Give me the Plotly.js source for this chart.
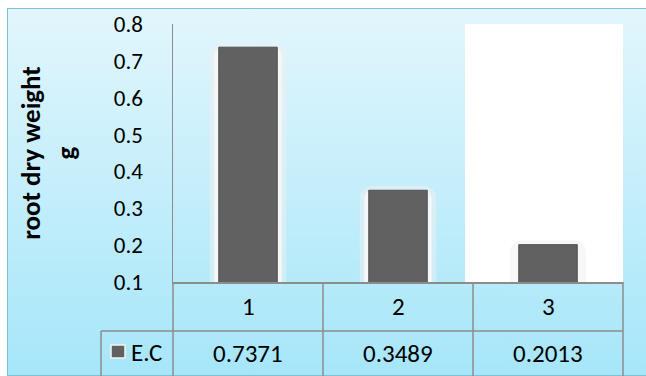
<!DOCTYPE html>
<html><head><meta charset="utf-8">
<script src="https://cdn.plot.ly/plotly-3.0.1.min.js"></script>
<style>
html,body{margin:0;padding:0;background:#fff;}
#wrap{position:absolute;left:0;top:0;width:646px;height:376px;overflow:hidden;}
#bg{position:absolute;left:7px;top:8px;width:660px;height:366px;border:1px solid #7cc3d8;background:linear-gradient(#e2f6fc,#a6e6f9);}
#chart{position:absolute;left:0;top:0;width:646px;height:376px;}
</style></head>
<body><div id="wrap"><div id="bg"></div><div id="chart"></div></div>
<script>
var categories = ['1', '2', '3'];
var seriesName = 'E.C';
var values = [0.7371, 0.3489, 0.2013];
var yTicks = [0.1, 0.2, 0.3, 0.4, 0.5, 0.6, 0.7, 0.8];
var yTitle = 'root dry weight<br>g';

var FONT = 'Carlito, Lato, "Open Sans", sans-serif';
var xIdx = categories.map(function(c,i){return i;});
var barW = 0.39;

var glow = {type:'bar', x:xIdx, y:values, width:barW+0.06, showlegend:false, hoverinfo:'skip',
  marker:{color:'rgba(255,255,255,0.9)', cornerradius:8, line:{color:'rgba(240,240,240,0.5)', width:9}}};
var bars = {type:'bar', name:seriesName, x:xIdx, y:values, width:barW, showlegend:false,
  marker:{color:'#616161', line:{color:'#505050', width:1}}};

var lineC = '#8c8c8c';
var H = 258, W = 450;
function py(px){ return -(px-282)/H; }
function pxX(px){ return (px-173)/W; }
var yRow = py(331), yBot = py(377);
var shapes = [
  {type:'rect', xref:'x', yref:'paper', x0:1.447, x1:2.5, y0:0, y1:1, fillcolor:'#ffffff', line:{width:0}, layer:'below'}
];
[0,1/3,2/3,1].forEach(function(b){
  shapes.push({type:'line', xref:'paper', yref:'paper', x0:b, x1:b, y0:0, y1:yBot, line:{color:lineC,width:1.5}});
});
shapes.push({type:'line', xref:'paper', yref:'paper', x0:pxX(101), x1:1, y0:yRow, y1:yRow, line:{color:lineC,width:1.5}});
shapes.push({type:'line', xref:'paper', yref:'paper', x0:pxX(101), x1:pxX(101), y0:yRow, y1:yBot, line:{color:lineC,width:1.5}});
// legend key
shapes.push({type:'rect', xref:'paper', yref:'paper', x0:pxX(111), x1:pxX(125),
  y0:py(345), y1:py(358), fillcolor:'#616161', line:{color:'#f4f4f4',width:1.5}});

var TF = {family:FONT,size:25,color:'#000'};
var ann = [];
categories.forEach(function(c,i){
  ann.push({x:(i+0.5)/3, y:py(306), xref:'paper', yref:'paper', xanchor:'center', yanchor:'middle', text:c, showarrow:false, font:TF});
  ann.push({x:(i+0.5)/3, y:py(353), xref:'paper', yref:'paper', xanchor:'center', yanchor:'middle', text:String(values[i]), showarrow:false, font:TF});
});
ann.push({x:pxX(129), y:py(352), xref:'paper', yref:'paper', xanchor:'left', yanchor:'middle', text:seriesName, showarrow:false, font:TF});

var layout = {
  width:646, height:376,
  margin:{l:173, r:23, t:24, b:94},
  paper_bgcolor:'rgba(0,0,0,0)', plot_bgcolor:'rgba(0,0,0,0)',
  barmode:'overlay', showlegend:false,
  xaxis:{range:[-0.5,2.5], showticklabels:false, showgrid:false, zeroline:false, showline:true, linecolor:lineC, linewidth:1.5, fixedrange:true},
  yaxis:{range:[0.1,0.8], tickvals:yTicks, ticktext:yTicks.map(function(v){return v.toFixed(1);}),
    showgrid:false, zeroline:false, showline:true, linecolor:lineC, linewidth:1.5, ticks:'', ticklabelstandoff:24,
    tickfont:{family:FONT,size:23,color:'#000'},
    title:{text:yTitle, font:{family:FONT,size:27,color:'#000',weight:'bold'}, standoff:30}, automargin:false},
  shapes:shapes, annotations:ann
};
Plotly.newPlot('chart', [glow, bars], layout, {displayModeBar:false, staticPlot:true});
</script></body></html>
